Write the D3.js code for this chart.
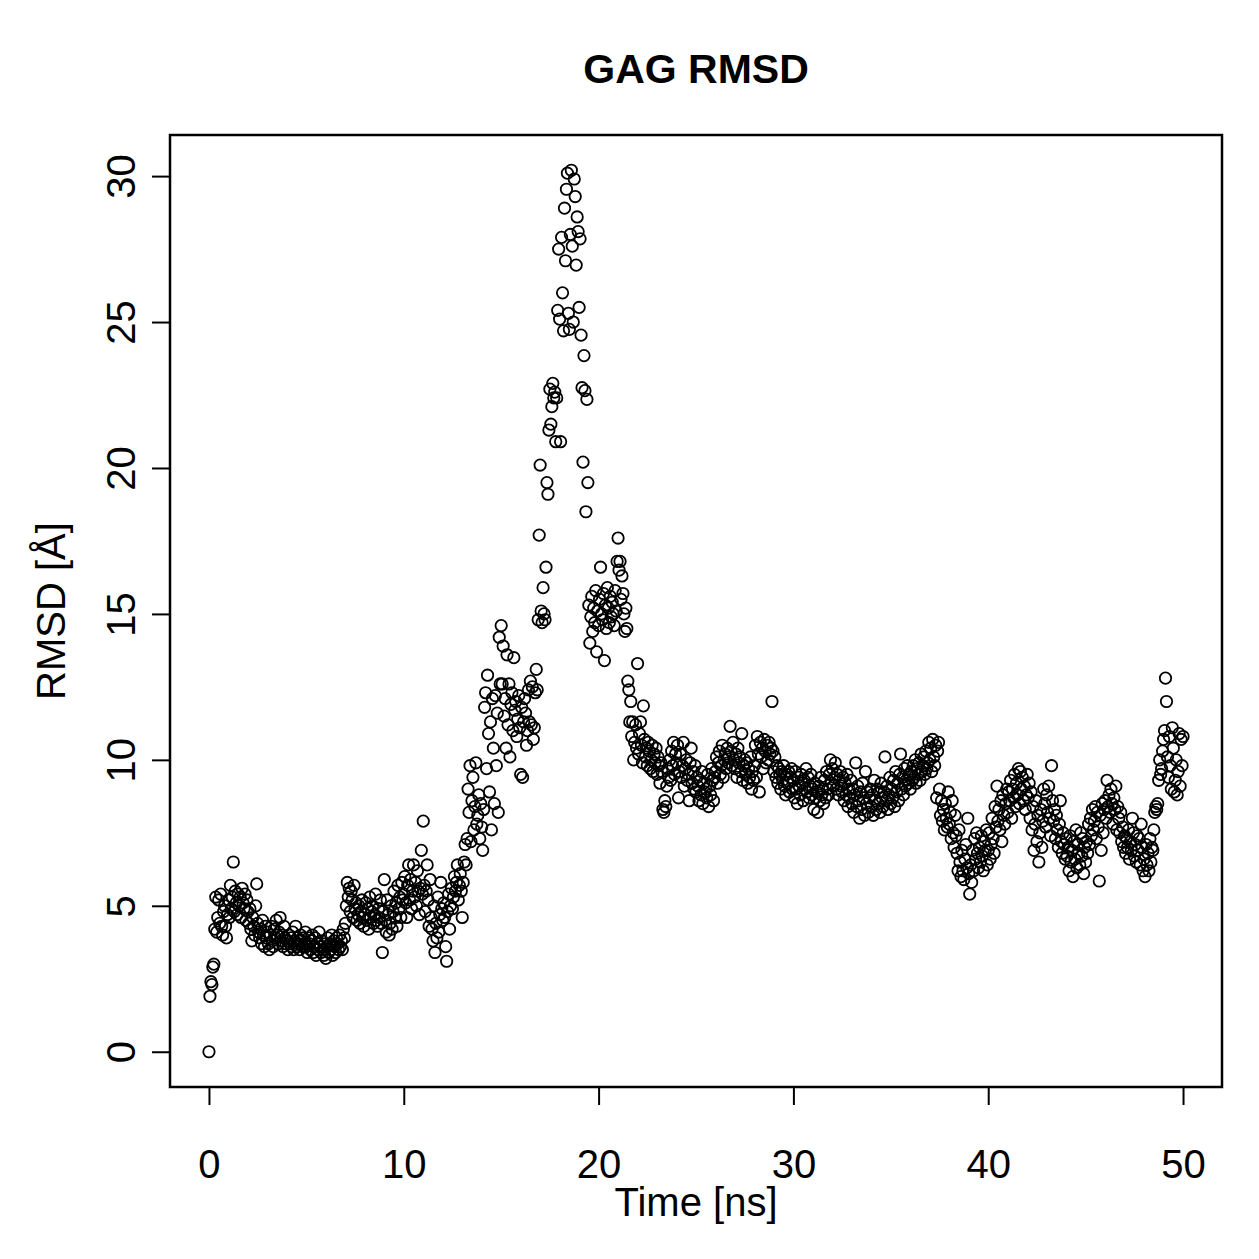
<!DOCTYPE html>
<html>
<head>
<meta charset="utf-8">
<script src="https://cdn.jsdelivr.net/npm/d3@7"></script>
<style>
  body { margin: 0; background: #fff; }
  text { font-family: "Liberation Sans", Arial, Helvetica, sans-serif; fill: #000; }
</style>
</head>
<body>
<svg id="chart"></svg>
<script>
// chart texts
const chartTitle = "GAG RMSD";
const xLabel = "Time [ns]";
const yLabel = "RMSD [Å]";

// tick values
const xTicks = [0, 10, 20, 30, 40, 50];
const yTicks = [0, 5, 10, 15, 20, 25, 30];

// one frame every 0.05 ns, one row of 20 frames per ns
const timeStep = 0.05;
const rmsdRows = [
  [0.0, 1.9, 2.4, 2.3, 2.9, 3.0, 4.2, 5.3, 4.1, 4.6, 5.2, 4.4, 5.4, 4.3, 4.0, 4.8, 5.0, 4.3, 3.9, 4.7],
  [5.2, 4.6, 5.7, 4.9, 5.3, 6.5, 4.8, 5.5, 5.1, 4.7, 5.4, 5.0, 5.3, 4.6, 5.6, 5.1, 4.9, 5.4, 4.5, 5.2],
  [4.8, 4.4, 4.9, 4.2, 3.8, 4.6, 4.3, 4.0, 5.0, 5.75, 4.4, 4.1, 3.9, 4.2, 3.7, 4.5, 4.0, 3.6, 4.3, 3.9],
  [4.1, 3.7, 3.5, 4.0, 4.3, 3.8, 3.6, 4.2, 3.9, 4.5, 4.0, 3.7, 4.1, 4.6, 3.8, 4.0, 3.6, 4.3, 3.9, 3.7],
  [3.8, 3.5, 4.0, 3.7, 3.9, 3.6, 4.1, 3.5, 3.8, 4.3, 3.6, 3.9, 3.7, 3.5, 4.0, 3.8, 3.6, 3.9, 3.7, 4.1],
  [3.6, 3.4, 3.9, 3.7, 3.5, 3.8, 4.0, 3.4, 3.6, 3.9, 3.3, 3.7, 3.5, 4.1, 3.6, 3.4, 3.8, 3.5, 3.3, 3.7],
  [3.2, 3.6, 3.9, 3.4, 3.7, 3.5, 4.0, 3.3, 3.8, 3.6, 3.4, 3.9, 3.7, 3.5, 4.0, 3.6, 3.8, 3.5, 4.2, 3.9],
  [4.4, 5.0, 5.8, 5.3, 5.6, 4.8, 5.5, 5.2, 4.6, 5.7, 4.9, 5.1, 4.5, 4.7, 5.0, 4.4, 4.8, 5.2, 4.6, 4.3],
  [4.7, 5.1, 4.5, 4.9, 4.2, 5.3, 4.6, 4.8, 5.0, 4.4, 4.7, 5.4, 4.5, 4.3, 4.9, 4.6, 5.2, 4.4, 3.4, 4.8],
  [5.9, 4.5, 4.1, 5.2, 4.7, 4.0, 4.4, 5.0, 4.2, 4.8, 5.5, 4.6, 5.1, 4.3, 5.7, 4.9, 5.3, 4.6, 5.8, 5.2],
  [5.4, 6.0, 5.1, 4.6, 5.7, 6.4, 5.2, 5.9, 4.9, 5.5, 6.4, 5.3, 5.8, 5.0, 6.2, 5.5, 4.7, 5.6, 6.9, 5.4],
  [7.9, 5.7, 4.8, 5.5, 6.4, 5.2, 4.3, 5.9, 4.6, 4.2, 3.8, 5.0, 3.4, 4.4, 3.9, 5.3, 4.1, 4.7, 5.8, 4.9],
  [4.5, 5.1, 4.6, 3.6, 3.1, 4.8, 5.4, 4.2, 5.0, 5.6, 4.9, 5.3, 6.0, 5.5, 5.8, 6.4, 5.2, 5.7, 6.1, 5.5],
  [4.6, 5.8, 6.5, 7.1, 6.4, 7.3, 9.0, 8.2, 9.8, 7.2, 8.6, 9.4, 7.6, 8.4, 9.9, 7.8, 8.1, 8.8, 7.3, 8.5],
  [7.7, 6.9, 8.3, 11.8, 12.3, 9.7, 12.9, 10.9, 8.9, 11.3, 7.6, 12.1, 10.4, 8.5, 12.2, 9.8, 11.6, 8.2, 14.2, 12.6],
  [14.6, 12.6, 13.9, 11.5, 12.1, 10.4, 13.6, 11.2, 12.6, 10.1, 11.9, 12.3, 11.0, 13.5, 11.7, 12.0, 10.8, 11.4, 12.2, 11.1],
  [9.5, 11.8, 9.4, 11.3, 12.1, 11.6, 10.5, 11.0, 12.4, 11.3, 12.7, 11.2, 12.5, 10.7, 11.1, 12.3, 13.1, 12.4, 14.8, 17.7],
  [20.1, 15.1, 14.7, 15.9, 15.0, 14.8, 16.6, 19.5, 19.1, 21.3, 22.7, 21.5, 22.1, 22.9, 22.4, 22.6, 20.9, 22.4, 25.4, 27.5],
  [25.1, 20.9, 27.9, 26.0, 24.7, 28.9, 27.1, 29.55, 30.1, 25.3, 24.75, 28.0, 30.2, 27.6, 25.0, 29.9, 29.3, 26.95, 28.6, 28.1],
  [25.5, 27.85, 24.55, 22.75, 20.2, 23.85, 22.65, 18.5, 22.35, 19.5, 15.3, 14.0, 14.9, 15.6, 14.4, 15.2, 14.7, 15.8, 13.7, 15.1],
  [14.6, 15.5, 16.6, 15.0, 14.8, 15.7, 13.4, 15.3, 14.5, 15.9, 15.2, 14.7, 15.6, 14.9, 15.4, 15.0, 14.6, 15.8, 15.1, 16.8],
  [17.6, 16.5, 16.8, 15.5, 16.3, 15.7, 15.0, 14.4, 15.2, 14.5, 12.7, 12.4, 11.3, 12.0, 10.8, 11.3, 10.0, 10.6, 11.2, 10.4],
  [13.3, 10.2, 10.9, 11.3, 10.5, 9.9, 11.85, 10.7, 10.1, 10.4, 9.8, 10.6, 10.3, 9.7, 10.0, 10.5, 9.6, 10.2, 9.9, 10.4],
  [9.5, 10.1, 9.8, 9.2, 9.9, 9.6, 8.3, 8.2, 8.6, 8.4, 9.1, 9.7, 9.4, 10.0, 9.3, 10.3, 9.8, 10.6, 9.5, 10.2],
  [9.9, 10.5, 8.7, 9.6, 10.2, 9.4, 9.8, 10.6, 9.1, 9.7, 10.0, 9.3, 9.5, 8.6, 9.9, 10.4, 9.2, 9.6, 9.0, 9.8],
  [8.9, 9.4, 9.1, 8.6, 9.3, 8.8, 9.6, 8.5, 9.2, 8.9, 9.0, 8.7, 9.5, 8.4, 9.1, 8.8, 9.7, 9.3, 8.6, 9.4],
  [9.6, 10.1, 9.2, 9.9, 10.3, 9.5, 9.8, 10.5, 9.4, 10.0, 10.2, 9.7, 10.4, 9.9, 10.1, 11.15, 10.3, 9.8, 10.6, 10.0],
  [9.7, 10.2, 9.4, 10.4, 9.9, 10.1, 9.6, 10.9, 9.3, 9.8, 10.0, 9.5, 9.9, 9.2, 9.7, 9.4, 10.1, 9.0, 9.6, 9.3],
  [9.8, 10.5, 9.4, 10.8, 10.2, 8.9, 10.6, 10.1, 10.4, 9.7, 10.7, 10.3, 9.9, 10.5, 10.0, 10.6, 10.2, 10.4, 12.0, 10.3],
  [9.6, 10.1, 9.4, 9.8, 9.2, 9.7, 9.5, 9.0, 9.6, 9.3, 9.8, 9.1, 8.8, 9.5, 9.2, 9.6, 8.9, 9.4, 9.7, 9.0],
  [9.3, 8.7, 9.6, 9.0, 8.5, 9.4, 9.1, 8.8, 9.5, 9.2, 8.6, 9.3, 9.0, 9.7, 8.9, 9.4, 8.7, 9.1, 9.5, 8.8],
  [9.0, 8.3, 9.2, 8.7, 8.9, 8.2, 9.1, 8.6, 9.4, 8.8, 9.0, 8.5, 9.3, 8.7, 9.6, 9.0, 8.8, 9.5, 10.0, 9.2],
  [9.7, 9.1, 9.4, 9.9, 9.0, 9.5, 8.8, 9.3, 9.6, 9.1, 8.9, 9.4, 8.6, 9.2, 8.8, 9.5, 8.4, 9.0, 8.7, 9.3],
  [8.5, 9.0, 8.2, 8.8, 9.9, 8.4, 9.1, 8.6, 8.0, 8.9, 8.3, 9.2, 8.7, 8.1, 9.6, 8.5, 8.9, 8.2, 8.7, 9.0],
  [8.4, 8.8, 8.1, 9.3, 8.6, 8.3, 9.0, 8.5, 8.9, 8.2, 9.2, 8.7, 8.4, 8.9, 10.1, 8.6, 9.1, 8.3, 8.8, 9.4],
  [8.5, 9.0, 8.7, 9.3, 8.4, 9.6, 8.9, 9.2, 8.6, 9.5, 10.2, 9.0, 9.4, 8.8, 9.7, 9.1, 9.3, 9.8, 9.2, 9.5],
  [9.0, 9.6, 9.3, 9.8, 9.4, 10.0, 9.2, 9.7, 9.5, 9.9, 9.3, 10.2, 9.6, 9.8, 10.1, 9.5, 10.3, 9.7, 9.9, 10.6],
  [10.0, 10.4, 9.6, 10.7, 10.1, 9.8, 10.5, 8.7, 10.3, 10.6, 9.0, 8.1, 8.6, 7.9, 8.3, 7.6, 8.5, 8.0, 7.7, 8.9],
  [7.8, 8.2, 7.3, 8.6, 7.5, 7.0, 8.1, 7.4, 6.8, 6.2, 7.6, 6.5, 6.0, 6.9, 6.2, 5.9, 6.6, 7.1, 6.3, 8.0],
  [6.1, 5.4, 6.4, 5.8, 6.9, 6.2, 7.3, 6.6, 7.5, 6.8, 6.3, 7.0, 6.5, 7.4, 6.7, 6.2, 7.2, 6.9, 7.6, 6.4],
  [6.9, 7.5, 6.6, 7.1, 8.0, 7.3, 6.8, 8.4, 7.7, 9.1, 7.9, 8.3, 7.6, 8.6, 7.2, 8.8, 8.1, 7.8, 8.5, 9.0],
  [8.2, 8.9, 8.6, 9.3, 8.0, 9.0, 8.7, 9.5, 8.4, 9.2, 8.8, 9.7, 8.5, 9.6, 9.0, 9.4, 8.6, 9.1, 8.3, 8.8],
  [9.5, 8.7, 9.2, 8.0, 8.9, 7.6, 8.4, 6.9, 7.8, 8.6, 7.2, 8.1, 6.5, 7.5, 8.3, 7.0, 7.9, 9.0, 8.5, 7.7],
  [8.8, 8.2, 9.1, 8.0, 7.4, 9.8, 8.6, 7.9, 8.3, 7.3, 8.1, 7.6, 7.0, 7.8, 8.6, 7.2, 6.8, 7.5, 7.1, 6.6],
  [7.3, 6.7, 7.0, 6.2, 7.4, 6.5, 6.9, 6.0, 7.2, 6.6, 7.6, 6.3, 7.1, 6.8, 6.4, 7.5, 6.7, 7.3, 6.1, 7.0],
  [6.5, 7.2, 6.8, 7.8, 7.1, 8.0, 7.4, 8.3, 7.6, 7.9, 8.4, 7.3, 8.2, 7.7, 5.85, 8.1, 6.9, 8.5, 7.5, 8.3],
  [8.6, 8.0, 9.3, 8.4, 8.8, 8.2, 9.0, 8.5, 7.8, 8.7, 8.3, 9.1, 7.6, 8.4, 8.0, 7.5, 8.2, 7.2, 7.7, 7.0],
  [7.4, 6.8, 7.3, 7.0, 7.6, 6.6, 7.2, 6.9, 8.0, 7.5, 6.7, 7.1, 6.5, 7.4, 6.9, 7.3, 6.4, 7.8, 7.0, 6.2],
  [6.6, 6.0, 7.1, 6.4, 6.8, 6.2, 7.3, 6.5, 7.0, 6.9, 7.6, 8.2, 8.4, 8.3, 8.5, 9.3, 10.0, 9.5, 9.7, 10.3],
  [10.7, 11.0, 12.8, 12.0, 10.1, 9.4, 10.8, 9.8, 9.0, 11.1, 10.4, 8.9, 9.3, 10.0, 8.8, 9.6, 10.9, 9.1, 10.7, 9.8],
  [10.8]
];

// flatten rows into points
const points = [];
rmsdRows.forEach((row, ns) => {
  row.forEach((v, j) => {
    points.push({ time: ns + j * timeStep, rmsd: v });
  });
});

const width = 1259, height = 1259;
const box = { left: 170, right: 1222, top: 135, bottom: 1087 };

const svg = d3.select("#chart").attr("width", width).attr("height", height);

// R style 4% padding on the data range
const pad = (ext) => {
  const d = (ext[1] - ext[0]) * 0.04;
  return [ext[0] - d, ext[1] + d];
};

const x = d3.scaleLinear()
  .domain(pad(d3.extent(points, (d) => d.time)))
  .range([box.left, box.right]);

const y = d3.scaleLinear()
  .domain(pad(d3.extent(points, (d) => d.rmsd)))
  .range([box.bottom, box.top]);

// points
svg.append("g")
  .selectAll("circle")
  .data(points)
  .enter()
  .append("circle")
  .attr("cx", (d) => x(d.time))
  .attr("cy", (d) => y(d.rmsd))
  .attr("r", 5.7)
  .attr("fill", "none")
  .attr("stroke", "#000")
  .attr("stroke-width", 1.8);

// x axis
const xAxis = svg.append("g")
  .attr("transform", `translate(0,${box.bottom})`)
  .call(d3.axisBottom(x).tickValues(xTicks).tickSize(18).tickSizeOuter(0).tickFormat(d3.format("d")));
xAxis.select(".domain").remove();
xAxis.selectAll("line").attr("stroke-width", 2);
xAxis.selectAll("text")
  .attr("y", 91)
  .attr("dy", 0)
  .attr("font-size", 40)
  .attr("font-family", "Liberation Sans, Arial, sans-serif");

// y axis
const yAxis = svg.append("g")
  .attr("transform", `translate(${box.left},0)`)
  .call(d3.axisLeft(y).tickValues(yTicks).tickSize(18).tickSizeOuter(0).tickFormat(d3.format("d")));
yAxis.select(".domain").remove();
yAxis.selectAll("line").attr("stroke-width", 2);
yAxis.selectAll("text")
  .attr("x", 0)
  .attr("y", -35)
  .attr("dy", 0)
  .attr("transform", "rotate(-90)")
  .attr("text-anchor", "middle")
  .attr("font-size", 40)
  .attr("font-family", "Liberation Sans, Arial, sans-serif");

// plot box
svg.append("rect")
  .attr("x", box.left)
  .attr("y", box.top)
  .attr("width", box.right - box.left)
  .attr("height", box.bottom - box.top)
  .attr("fill", "none")
  .attr("stroke", "#000")
  .attr("stroke-width", 2.5);

// title and axis labels
svg.append("text")
  .attr("x", (box.left + box.right) / 2)
  .attr("y", 83)
  .attr("text-anchor", "middle")
  .attr("font-size", 41)
  .attr("font-weight", "bold")
  .text(chartTitle);

svg.append("text")
  .attr("x", (box.left + box.right) / 2)
  .attr("y", 1216)
  .attr("text-anchor", "middle")
  .attr("font-size", 40)
  .text(xLabel);

svg.append("text")
  .attr("transform", `translate(65,${(box.top + box.bottom) / 2}) rotate(-90)`)
  .attr("text-anchor", "middle")
  .attr("font-size", 40)
  .text(yLabel);
</script>
</body>
</html>
